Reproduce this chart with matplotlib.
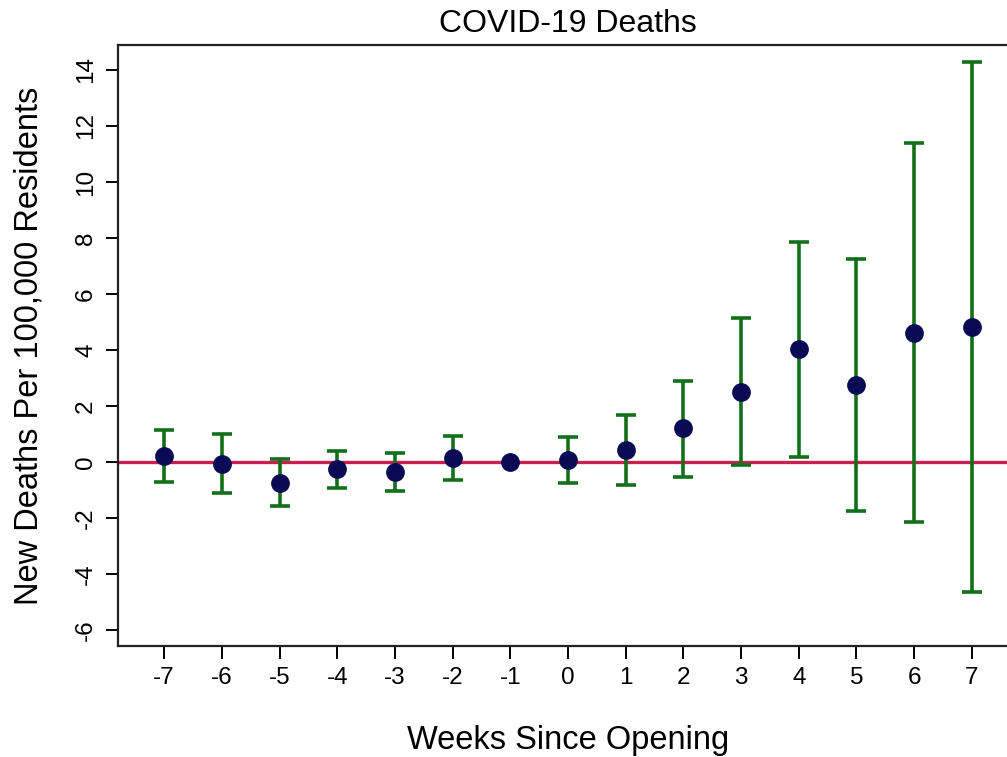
import matplotlib as mpl
mpl.use('Agg')
from matplotlib import pyplot as plt
import numpy as np

plt.rcParams['font.family'] = ['Liberation Sans', 'DejaVu Sans']

# event-study estimates, weeks relative to opening
weeks = [-7, -6, -5, -4, -3, -2, -1, 0, 1, 2, 3, 4, 5, 6, 7]
coef = [0.21, -0.07, -0.75, -0.25, -0.35, 0.14, 0.0, 0.07, 0.43, 1.21, 2.50, 4.04, 2.75, 4.60, 4.82]
ci_low = [-0.71, -1.10, -1.57, -0.93, -1.04, -0.64, 0.0, -0.75, -0.82, -0.54, -0.10, 0.18, -1.75, -2.14, -4.64]
ci_high = [1.14, 1.00, 0.10, 0.40, 0.32, 0.93, 0.0, 0.90, 1.68, 2.89, 5.14, 7.86, 7.25, 11.39, 14.29]
yticks = [-6, -4, -2, 0, 2, 4, 6, 8, 10, 12, 14]

weeks = np.asarray(weeks)
coef = np.asarray(coef)
lo = np.asarray(ci_low)
hi = np.asarray(ci_high)

W, H = 1007, 757
fig = plt.figure(figsize=(W / 100, H / 100), dpi=100)
# the plot box runs a little past the right edge of the figure
ax = fig.add_axes([118 / W, (H - 646) / H, 900 / W, 601 / H])

ax.axhline(0, color='#cc1f4f', linewidth=2.4, zorder=1)

# no interval at the reference week
has_ci = hi > lo
ax.errorbar(weeks[has_ci], coef[has_ci],
            yerr=[coef[has_ci] - lo[has_ci], hi[has_ci] - coef[has_ci]],
            fmt='none', ecolor='#12701a', elinewidth=2.6, capsize=7,
            capthick=2.6, zorder=2)
ax.plot(weeks, coef, 'o', color='#0a0a55', markersize=12.5, zorder=3)

ax.set_xlim(-7.8, 7.8)
ax.set_ylim(-6.57, 14.89)
ax.set_xticks(weeks)
ax.set_xticklabels([str(w) for w in weeks])
ax.set_yticks(yticks)
ax.set_yticklabels([str(t) for t in yticks], rotation=90, va='center')

for s in ax.spines.values():
    s.set_linewidth(1.6)
    s.set_color('#222222')
ax.tick_params(length=9, width=1.4, labelsize=17.5, pad=6)

ax.set_title('COVID-19 Deaths', fontsize=23, pad=9)
ax.set_xlabel('Weeks Since Opening', fontsize=23.5, labelpad=26)
ax.set_ylabel('New Deaths Per 100,000 Residents', fontsize=23.5, labelpad=22)

plt.savefig('out.png', dpi=100)
plt.close()
